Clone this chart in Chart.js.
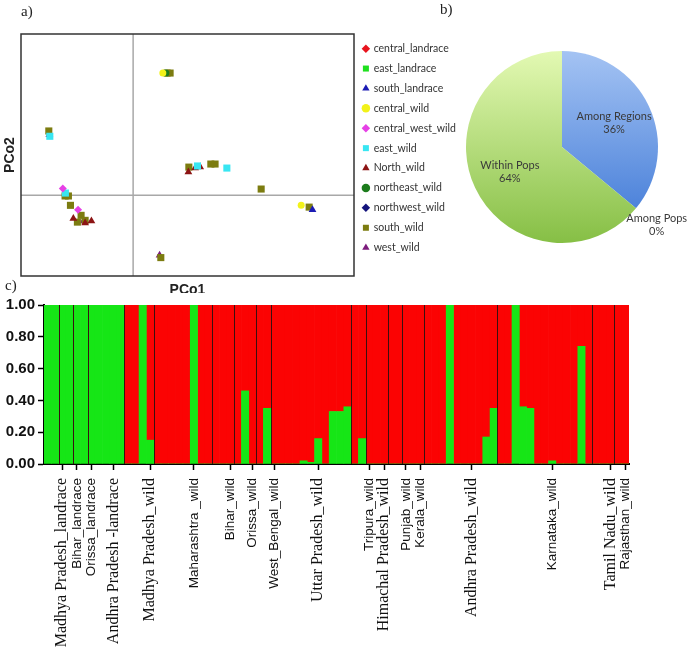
<!DOCTYPE html>
<html>
<head>
<meta charset="utf-8">
<script src="https://cdn.jsdelivr.net/npm/chart.js@4.4.1/dist/chart.umd.min.js"></script>
<style>
    html, body { margin: 0; padding: 0; background: #fff; }
    body { width: 689px; height: 650px; position: relative; overflow: hidden; }
    .box { position: absolute; }
    .tag { position: absolute; font-family: "Liberation Serif", serif; font-size: 15px; color: #222; }
</style>
</head>
<body>
<div class="box" style="left:0;top:0;"><canvas id="pcoaChart" width="464" height="300"></canvas></div>
<div class="box" style="left:452px;top:37px;"><canvas id="amovaChart" width="237" height="220"></canvas></div>
<div class="box" style="left:0;top:293px;background:#fff;"><canvas id="structureChart" width="689" height="357"></canvas></div>
<div class="tag" style="left:21px;top:3px;">a)</div>
<div class="tag" style="left:440px;top:1px;">b)</div>
<div class="tag" style="left:5px;top:277px;">c)</div>
<script>
// ---- a) PCoA ----
const centralLandrace = [];
const eastLandrace = [];
const southLandrace = [[1.600, -0.089]];
const centralWild = [[0.265, 0.758], [1.499, -0.062]];
const centralWestWild = [[-0.627, 0.042], [-0.491, -0.089]];
const eastWild = [[-0.743, 0.366], [0.574, 0.182], [0.836, 0.169], [-0.604, 0.014]];
const northWild = [[0.493, 0.144], [0.553, 0.169], [0.598, 0.175], [-0.533, -0.144], [-0.372, -0.159], [-0.428, -0.172]];
const northeastWild = [[0.292, 0.758]];
const northwestWild = [];
const southWild = [[0.303, 0.758], [0.33, 0.758], [-0.752, 0.399], [0.497, 0.175], [0.693, 0.194], [0.731, 0.194],
    [1.142, 0.039], [1.570, -0.073], [0.247, -0.386], [-0.607, -0.004], [-0.577, -0.004], [-0.559, -0.062],
    [-0.464, -0.124], [-0.497, -0.166], [-0.428, -0.155]];
const westWild = [[-0.747, 0.376], [0.236, -0.372], [-0.443, -0.159]];

// ---- b) AMOVA ----
const amovaLabels = ['Among Regions', 'Among Pops', 'Within Pops'];
const amovaShares = [36, 0, 64];

// ---- c) STRUCTURE ----
const groupSizes = [2, 2, 2, 5, 4, 8, 3, 3, 2, 11, 2, 3, 2, 3, 10, 13, 3, 2];
const greenShare = [
    1, 1, 1, 1, 1, 1, 1, 1, 1, 1, 1,
    0, 0, 1, 0.15,
    0, 0, 0, 0, 0, 1, 0, 0,
    0, 0, 0,
    0, 0.46, 0,
    0, 0.35,
    0, 0, 0, 0, 0.02, 0.01, 0.16, 0, 0.33, 0.33, 0.36,
    0, 0.16,
    0, 0, 0,
    0, 0,
    0, 0, 0,
    0, 0, 0, 1, 0, 0, 0, 0, 0.17, 0.35,
    0, 0, 1, 0.36, 0.35, 0, 0, 0.02, 0, 0, 0, 0.74, 0,
    0, 0, 0,
    0, 0
];
const tickNames = ['Madhya Pradesh_landrace', 'Bihar_landrace', 'Orissa_landrace', 'Andhra Pradesh -landrace',
    'Madhya Pradesh_wild', 'Maharashtra _wild', 'Bihar_wild', 'Orissa_wild', 'West_Bengal_wild', 'Uttar Pradesh_wild',
    'Tripura_wild', 'Himachal Pradesh_wild', 'Punjab_wild', 'Kerala_wild', 'Andhra Pradesh_wild', 'Karnataka_wild',
    'Tamil Nadu_wild', 'Rajasthan_wild'];
const tickBars = [2, 4, 6, 9, 14, 20, 25, 28, 31, 37, 44, 46, 49, 51, 58, 69, 77, 79];
// names set in the serif face in the original figure
const serifTicks = ['Madhya Pradesh_landrace', 'Andhra Pradesh -landrace', 'Madhya Pradesh_wild', 'Uttar Pradesh_wild',
    'Himachal Pradesh_wild', 'Andhra Pradesh_wild', 'Tamil Nadu_wild'];

const sans = 'Liberation Sans, Arial, sans-serif';
const serif = 'Liberation Serif, Times New Roman, serif';

function toPoints(list) {
    return list.map(p => ({ x: p[0], y: p[1] }));
}

const pcoaSets = [
    ['central_landrace', centralLandrace, '#e8141e', 'rectRot', 4],
    ['east_landrace', eastLandrace, '#1fe01f', 'rect', 5],
    ['south_landrace', southLandrace, '#1c1cb4', 'triangle', 4.5],
    ['central_wild', centralWild, '#f2f21a', 'circle', 3.5],
    ['central_west_wild', centralWestWild, '#e640e6', 'rectRot', 4],
    ['east_wild', eastWild, '#38e6f2', 'rect', 5],
    ['North_wild', northWild, '#8c1414', 'triangle', 4.5],
    ['northeast_wild', northeastWild, '#1c7c1c', 'circle', 3.5],
    ['northwest_wild', northwestWild, '#14147c', 'rectRot', 4],
    ['south_wild', southWild, '#7c7c10', 'rect', 5],
    ['west_wild', westWild, '#7c1c7c', 'triangle', 4.5]
];

const pcoaFrame = {
    id: 'pcoaFrame',
    beforeDatasetsDraw(chart) {
        const { ctx, chartArea: a, scales: { x, y } } = chart;
        const x0 = x.getPixelForValue(0);
        const y0 = y.getPixelForValue(0);
        ctx.save();
        ctx.strokeStyle = '#a8a8a8';
        ctx.lineWidth = 1.5;
        ctx.beginPath();
        ctx.moveTo(x0, a.top); ctx.lineTo(x0, a.bottom);
        ctx.moveTo(a.left, y0); ctx.lineTo(a.right, y0);
        ctx.stroke();
        ctx.strokeStyle = '#333';
        ctx.strokeRect(a.left, a.top, a.right - a.left, a.bottom - a.top);
        ctx.restore();
    }
};

new Chart(document.getElementById('pcoaChart'), {
    type: 'scatter',
    data: {
        datasets: pcoaSets.map(s => ({
            label: s[0],
            data: toPoints(s[1]),
            backgroundColor: s[2],
            borderColor: s[2],
            borderWidth: 0,
            pointStyle: s[3],
            pointRadius: s[4]
        }))
    },
    options: {
        responsive: false,
        animation: false,
        layout: { padding: { top: 34, right: 0, left: 0, bottom: 0 } },
        plugins: {
            tooltip: { enabled: false },
            legend: {
                position: 'right',
                align: 'start',
                maxWidth: 110,
                labels: {
                    usePointStyle: true,
                    boxWidth: 5,
                    boxHeight: 6,
                    padding: 9.4,
                    color: '#333',
                    font: { family: 'Lato, ' + sans, size: 10.5 }
                }
            }
        },
        scales: {
            x: {
                min: -1, max: 1.97,
                ticks: { display: false },
                grid: { display: false, drawTicks: false },
                border: { display: false },
                title: { display: true, text: 'PCo1', color: '#222', font: { family: sans, size: 14, weight: 'bold' }, padding: { top: 0, bottom: 1 } },
                afterFit: s => { s.height = 24; }
            },
            y: {
                min: -0.5, max: 1.0,
                ticks: { display: false },
                grid: { display: false, drawTicks: false },
                border: { display: false },
                title: { display: true, text: 'PCo2', color: '#222', font: { family: sans, size: 14, weight: 'bold' }, padding: { top: 2, bottom: 2 } },
                afterFit: s => { s.width = 21; }
            }
        }
    },
    plugins: [pcoaFrame]
});

// ---- pie ----
const sliceTones = [['#a4c3f3', '#3a75d5'], ['#a4c3f3', '#3a75d5'], ['#e3f9b3', '#86bf45']];

function sliceFill(c) {
    const area = c.chart.chartArea;
    const tone = sliceTones[c.dataIndex];
    if (!area) return tone[1];
    const g = c.chart.ctx.createLinearGradient(0, area.top, 0, area.bottom);
    g.addColorStop(0, tone[0]);
    g.addColorStop(1, tone[1]);
    return g;
}

const pieLabels = {
    id: 'pieLabels',
    afterDatasetsDraw(chart) {
        const { ctx } = chart;
        const arcs = chart.getDatasetMeta(0).data;
        const values = chart.data.datasets[0].data;
        ctx.save();
        ctx.font = '11px Lato, Liberation Sans, sans-serif';
        ctx.fillStyle = '#3a3a3a';
        ctx.textAlign = 'center';
        ctx.textBaseline = 'middle';
        arcs.forEach((arc, i) => {
            const mid = (arc.startAngle + arc.endAngle) / 2;
            const f = values[i] > 0 ? 0.6 : 1.28;
            const px = arc.x + Math.cos(mid) * arc.outerRadius * f;
            const py = arc.y + Math.sin(mid) * arc.outerRadius * f;
            ctx.fillText(chart.data.labels[i], px, py - 6.5);
            ctx.fillText(values[i] + '%', px, py + 6.5);
        });
        ctx.restore();
    }
};

new Chart(document.getElementById('amovaChart'), {
    type: 'pie',
    data: {
        labels: amovaLabels,
        datasets: [{ data: amovaShares, backgroundColor: sliceFill, borderWidth: 0 }]
    },
    options: {
        responsive: false,
        animation: false,
        layout: { padding: { left: 14, right: 31, top: 14, bottom: 14 } },
        plugins: { legend: { display: false }, tooltip: { enabled: false } }
    },
    plugins: [pieLabels]
});

// ---- structure bar plot ----
const barLabels = greenShare.map((v, i) => {
    const k = tickBars.indexOf(i);
    return k >= 0 ? tickNames[k] : '';
});
const redShare = greenShare.map(v => 1 - v);

const groupLines = {
    id: 'groupLines',
    afterDatasetsDraw(chart) {
        const { ctx, chartArea: a, scales: { x } } = chart;
        ctx.save();
        ctx.strokeStyle = '#3a1010';
        ctx.lineWidth = 1;
        let edge = 0;
        groupSizes.slice(0, -1).forEach(n => {
            edge += n;
            const px = Math.round((x.getPixelForValue(edge - 1) + x.getPixelForValue(edge)) / 2) + 0.5;
            ctx.beginPath();
            ctx.moveTo(px, a.top);
            ctx.lineTo(px, a.bottom);
            ctx.stroke();
        });
        ctx.restore();
    }
};

new Chart(document.getElementById('structureChart'), {
    type: 'bar',
    data: {
        labels: barLabels,
        datasets: [
            { data: greenShare, backgroundColor: '#16e616', borderWidth: 0, barPercentage: 1, categoryPercentage: 1 },
            { data: redShare, backgroundColor: '#fb0303', borderWidth: 0, barPercentage: 1, categoryPercentage: 1 }
        ]
    },
    options: {
        responsive: false,
        animation: false,
        layout: { padding: { top: 12, right: 60, left: 0, bottom: 0 } },
        plugins: { legend: { display: false }, tooltip: { enabled: false } },
        scales: {
            x: {
                stacked: true,
                grid: { drawOnChartArea: false, offset: false, tickLength: 6, tickColor: '#000', tickWidth: 1.5 },
                border: { color: '#000', width: 2 },
                ticks: {
                    autoSkip: false,
                    minRotation: 90,
                    maxRotation: 90,
                    padding: 8,
                    color: '#111',
                    font: c => {
                        const lab = c.tick ? String(c.tick.label) : '';
                        return serifTicks.includes(lab) ? { family: serif, size: 16 } : { family: sans, size: 13.5 };
                    }
                },
                afterBuildTicks: s => { s.ticks = s.ticks.filter(t => barLabels[t.value] !== ''); },
                afterFit: s => { s.height = 186; }
            },
            y: {
                stacked: true,
                min: 0, max: 1,
                grid: { drawOnChartArea: false, tickLength: 6, tickColor: '#000', tickWidth: 1.5 },
                border: { color: '#000', width: 2 },
                ticks: {
                    stepSize: 0.2,
                    padding: 3,
                    color: '#111',
                    font: { family: sans, size: 15, weight: 'bold' },
                    callback: v => v.toFixed(2)
                },
                afterFit: s => { s.width = 44; }
            }
        }
    },
    plugins: [groupLines]
});
</script>
</body>
</html>
